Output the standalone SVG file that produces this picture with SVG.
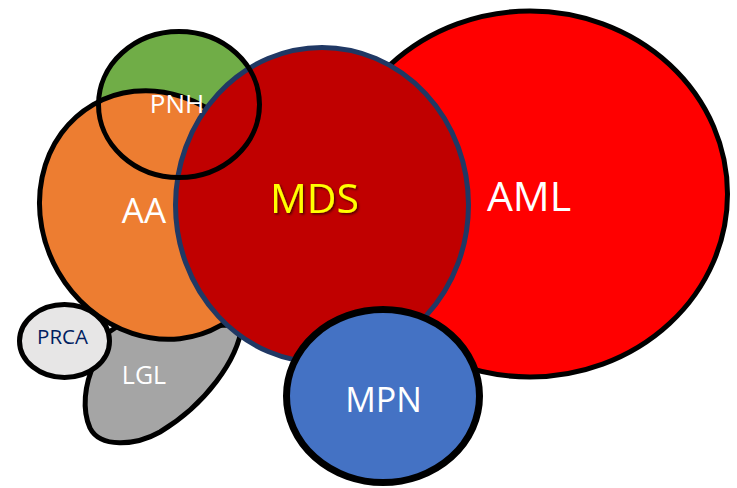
<svg xmlns="http://www.w3.org/2000/svg" width="737" height="488" viewBox="0 0 737 488">
<defs>
<style>
.lbl{font-family:"Open Sans","Noto Sans","Liberation Sans",sans-serif;text-anchor:middle;fill:#FFFFFF}
.blk{stroke:#000000;stroke-width:5}
</style>
<filter id="sh" x="-20%" y="-20%" width="140%" height="140%">
<feDropShadow dx="1.5" dy="1.5" stdDeviation="1" flood-color="#000000" flood-opacity="0.6"/>
</filter>
</defs>
<rect width="737" height="488" fill="#FFFFFF"/>
<g id="AML">
<ellipse cx="530" cy="194" rx="197.5" ry="183" fill="#FF0000" class="blk"/>
</g>
<g id="PNH-fill">
<ellipse cx="179" cy="104.5" rx="80.5" ry="73" fill="#70AD47"/>
</g>
<g id="LGL">
<path d="M 242 325 C 238 360 205 405 160 432 C 135 446 100 448 90 428 C 82 410 84 385 95 362 L 100 338 L 118 326 Z" fill="#A5A5A5" class="blk" stroke-linejoin="round"/>
</g>
<g id="AA">
<ellipse cx="157" cy="215" rx="127.5" ry="114" transform="rotate(60 157 215)" fill="#ED7D31" class="blk"/>
</g>
<g id="PRCA">
<ellipse cx="64.5" cy="341" rx="45" ry="36.5" fill="#E7E6E6" class="blk"/>
</g>
<g id="MDS">
<ellipse cx="322" cy="205" rx="146.5" ry="157.5" fill="#C00000" stroke="#203864" stroke-width="5"/>
</g>
<g id="PNH">
<ellipse cx="179" cy="104.5" rx="80.5" ry="73" fill="none" class="blk"/>
</g>
<g id="MPN">
<ellipse cx="383" cy="396" rx="96.5" ry="86.5" fill="#4472C4" stroke="#000000" stroke-width="7"/>
</g>
<g id="labels">
<text class="lbl" x="177" y="113" font-size="26">PNH</text>
<text class="lbl" x="144" y="223" font-size="35">AA</text>
<text class="lbl" x="314.5" y="213" font-size="41" style="fill:#FFFF00" filter="url(#sh)">MDS</text>
<text class="lbl" x="529" y="211" font-size="41">AML</text>
<text class="lbl" x="383.5" y="412" font-size="34">MPN</text>
<text class="lbl" x="144" y="384" font-size="25">LGL</text>
<text class="lbl" x="62.5" y="344" font-size="20.5" style="fill:#002060">PRCA</text>
</g>
<g id="connectors"/>
</svg>
